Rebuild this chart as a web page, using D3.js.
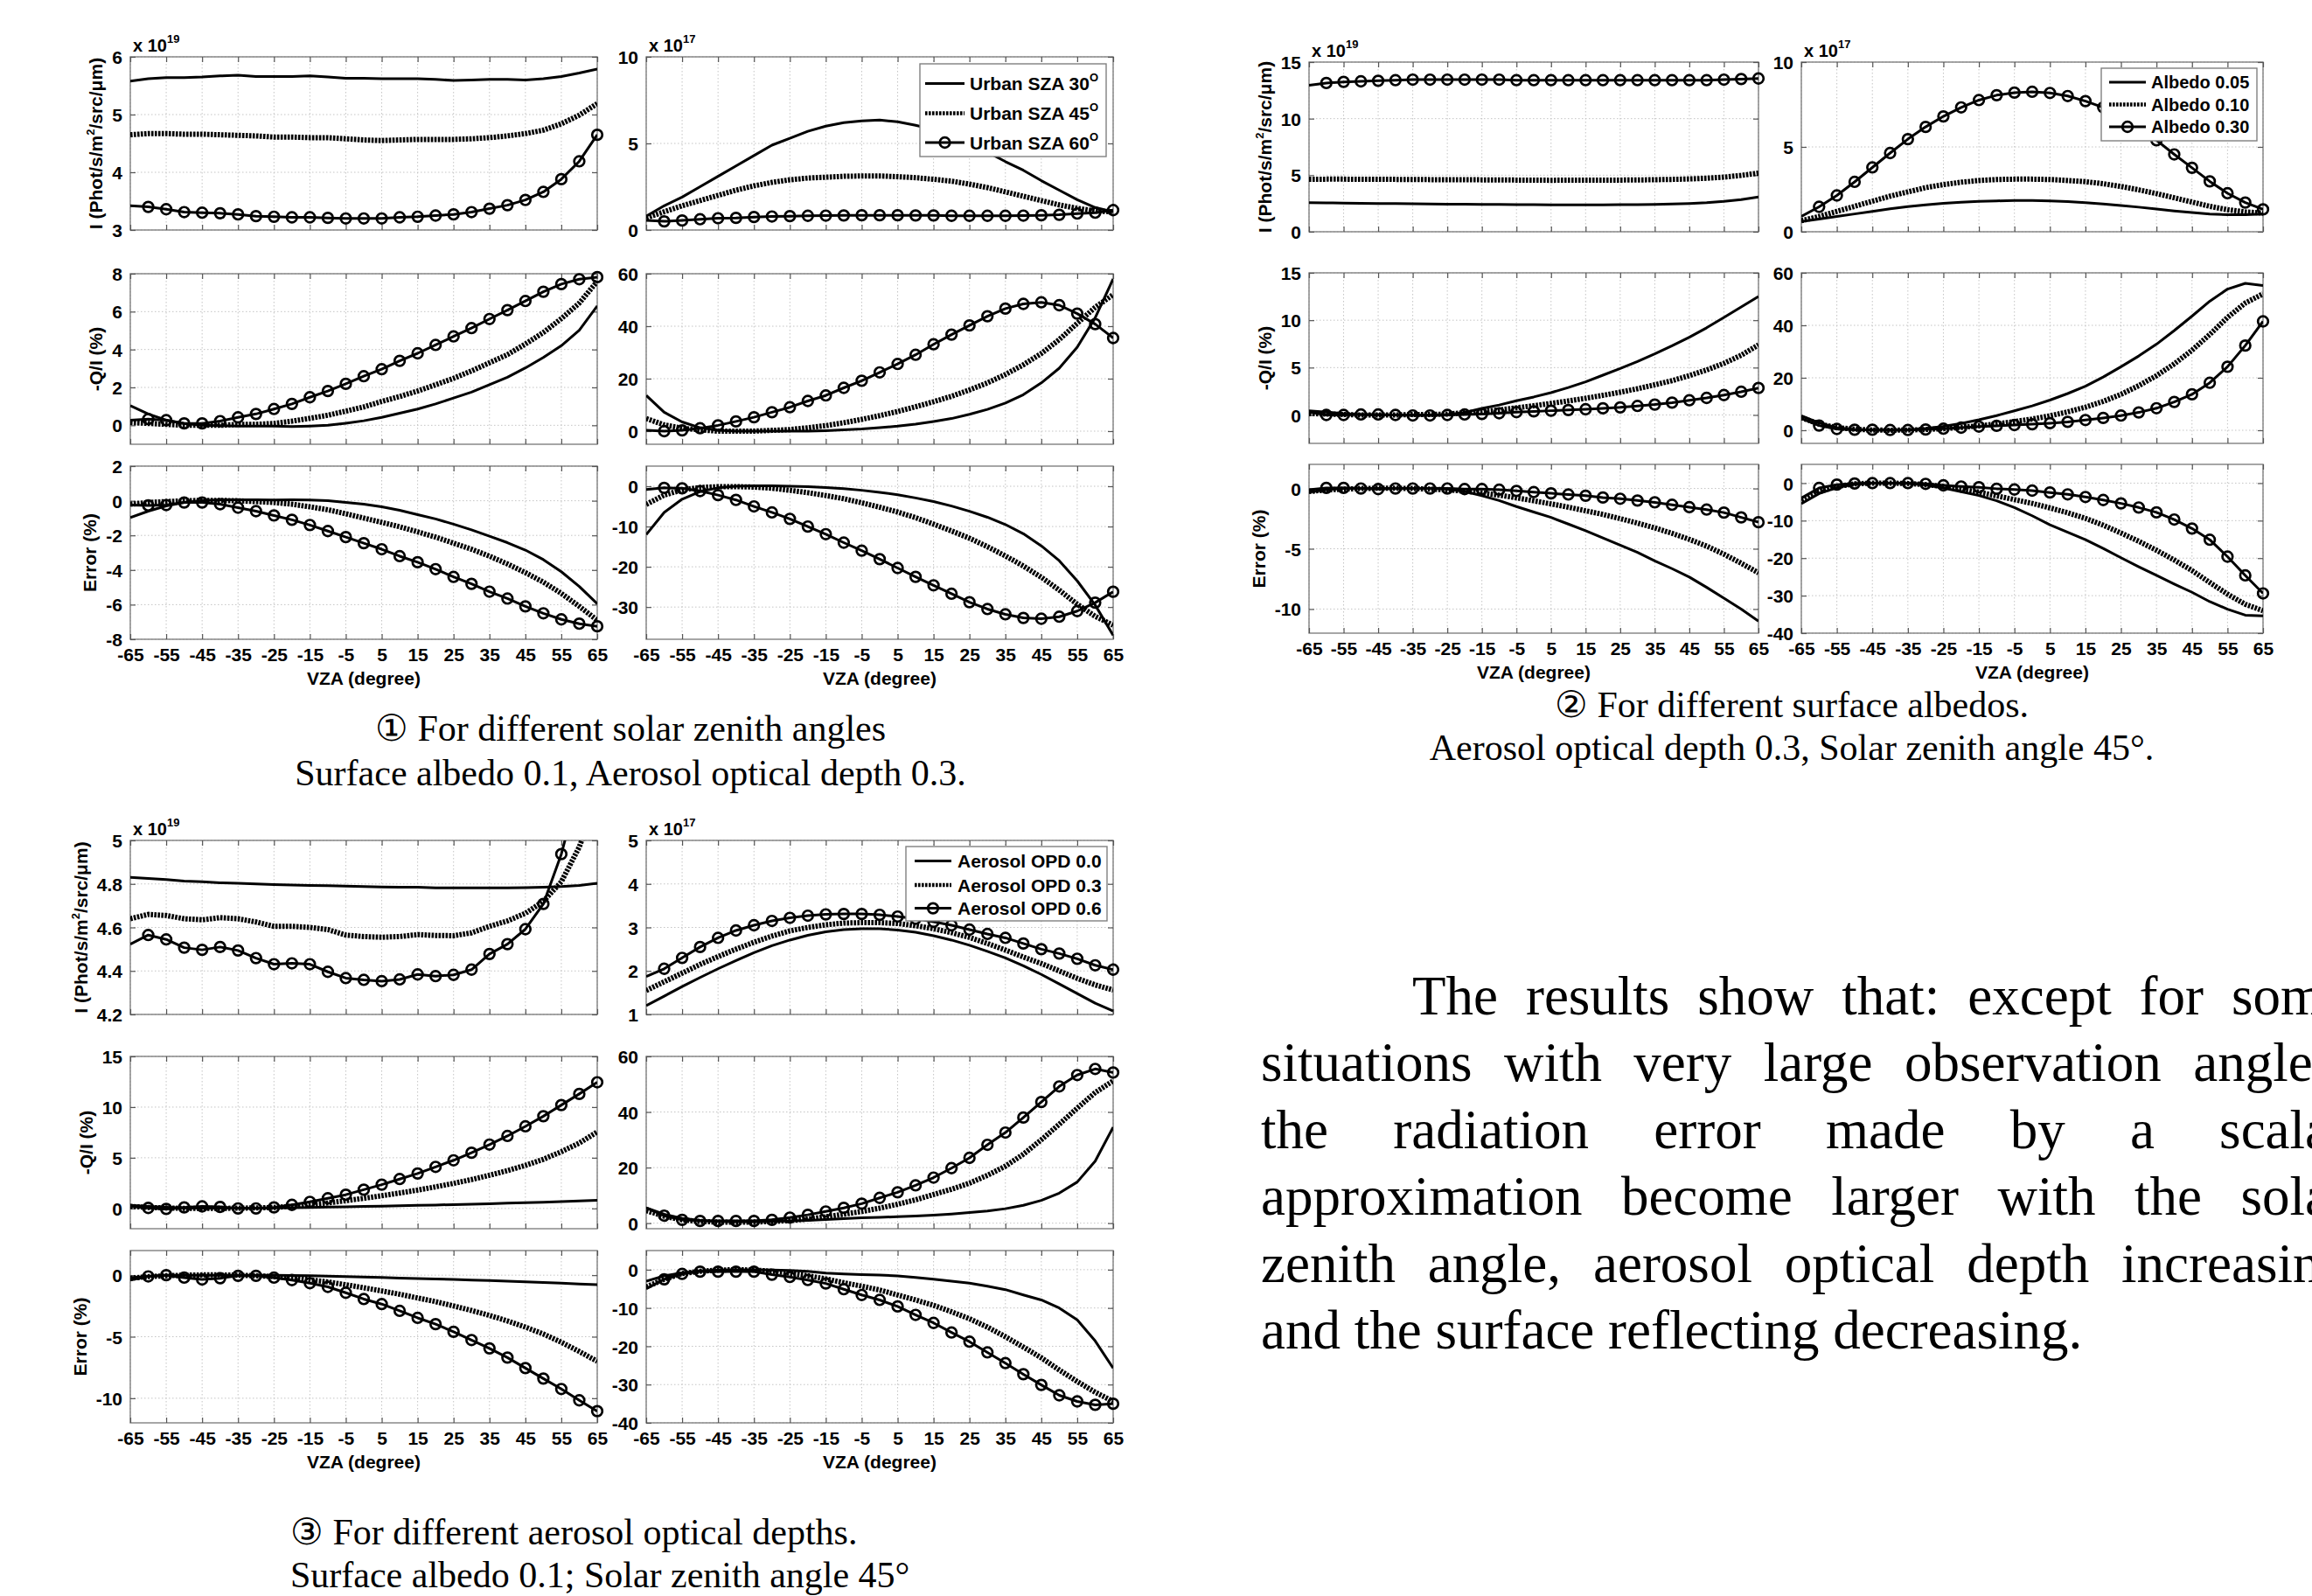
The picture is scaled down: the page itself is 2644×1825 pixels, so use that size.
<!DOCTYPE html>
<html>
<head>
<meta charset="utf-8">
<title>Scalar approximation error vs VZA</title>
<script src="https://cdn.jsdelivr.net/npm/d3@7"></script>
<style>
  body { margin: 0; background: #fff; }
  svg { display: block; }
</style>
</head>
<body>
<svg id="fig" width="2644" height="1825"></svg>
<script>
// view zenith angle, degrees
const vza = [-65, -60, -55, -50, -45, -40, -35, -30, -25, -20, -15, -10, -5, 0, 5, 10, 15, 20, 25, 30, 35, 40, 45, 50, 55, 60, 65];
const xTicks = [-65, -55, -45, -35, -25, -15, -5, 5, 15, 25, 35, 45, 55, 65];

const szaLabels = ["Urban SZA 30", "Urban SZA 45", "Urban SZA 60"];
const albedoLabels = ["Albedo 0.05", "Albedo 0.10", "Albedo 0.30"];
const aodLabels = ["Aerosol OPD 0.0", "Aerosol OPD 0.3", "Aerosol OPD 0.6"];

// ---- group 1: solar zenith angles ----
// I (x 1e19), left
const g1I30 = [5.58, 5.62, 5.64, 5.64, 5.65, 5.67, 5.68, 5.66, 5.66, 5.66, 5.67, 5.65, 5.63, 5.63, 5.62, 5.62, 5.62, 5.61, 5.59, 5.60, 5.61, 5.61, 5.60, 5.62, 5.66, 5.72, 5.79];
const g1I45 = [4.65, 4.67, 4.67, 4.66, 4.66, 4.65, 4.64, 4.63, 4.61, 4.61, 4.60, 4.60, 4.58, 4.56, 4.55, 4.56, 4.57, 4.57, 4.57, 4.58, 4.60, 4.63, 4.67, 4.73, 4.84, 4.99, 5.19];
const g1I60 = [3.42, 3.40, 3.36, 3.31, 3.30, 3.29, 3.27, 3.24, 3.23, 3.22, 3.22, 3.21, 3.20, 3.20, 3.20, 3.22, 3.23, 3.25, 3.27, 3.31, 3.37, 3.43, 3.52, 3.66, 3.88, 4.19, 4.65];
const g1Q30 = [1.04, 0.60, 0.27, 0.10, 0.00, -0.02, -0.04, -0.04, -0.04, -0.06, -0.04, 0.00, 0.11, 0.24, 0.42, 0.64, 0.86, 1.13, 1.44, 1.75, 2.14, 2.54, 3.03, 3.58, 4.20, 5.02, 6.30];
const g1Q45 = [0.15, 0.10, 0.05, 0.00, 0.00, 0.00, 0.05, 0.05, 0.10, 0.22, 0.37, 0.53, 0.75, 0.97, 1.26, 1.52, 1.81, 2.14, 2.48, 2.87, 3.30, 3.73, 4.29, 4.90, 5.63, 6.45, 7.60];
const g1Q60 = [0.27, 0.33, 0.27, 0.10, 0.10, 0.22, 0.42, 0.60, 0.86, 1.13, 1.48, 1.81, 2.19, 2.59, 2.96, 3.40, 3.80, 4.24, 4.69, 5.13, 5.61, 6.08, 6.56, 7.05, 7.45, 7.71, 7.82];
const g1E30 = [-0.97, -0.60, -0.30, -0.10, 0.00, 0.05, 0.05, 0.05, 0.04, 0.05, 0.04, 0.00, -0.10, -0.20, -0.35, -0.55, -0.80, -1.05, -1.35, -1.68, -2.05, -2.42, -2.85, -3.40, -4.10, -4.95, -5.95];
const g1E45 = [-0.20, -0.10, -0.05, 0.00, 0.02, 0.02, 0.00, -0.05, -0.10, -0.20, -0.35, -0.52, -0.75, -1.00, -1.25, -1.50, -1.80, -2.10, -2.45, -2.80, -3.20, -3.65, -4.15, -4.70, -5.35, -6.10, -6.90];
const g1E60 = [-0.25, -0.27, -0.25, -0.10, -0.10, -0.20, -0.40, -0.60, -0.85, -1.10, -1.40, -1.75, -2.10, -2.45, -2.80, -3.20, -3.55, -3.95, -4.40, -4.80, -5.25, -5.65, -6.10, -6.50, -6.85, -7.10, -7.25];
// polarized part, right (I x 1e17)
const g1R30 = [0.80, 1.40, 1.90, 2.50, 3.10, 3.70, 4.30, 4.90, 5.30, 5.70, 6.00, 6.20, 6.30, 6.35, 6.25, 6.05, 5.80, 5.40, 4.95, 4.50, 3.95, 3.45, 2.85, 2.30, 1.75, 1.30, 1.05];
const g1R45 = [0.70, 1.05, 1.40, 1.70, 2.00, 2.30, 2.55, 2.75, 2.90, 3.00, 3.05, 3.10, 3.12, 3.12, 3.08, 3.02, 2.93, 2.82, 2.65, 2.45, 2.20, 1.95, 1.70, 1.45, 1.25, 1.10, 1.05];
const g1R60 = [0.55, 0.50, 0.55, 0.62, 0.68, 0.70, 0.75, 0.78, 0.80, 0.82, 0.83, 0.84, 0.85, 0.85, 0.85, 0.84, 0.84, 0.82, 0.82, 0.82, 0.82, 0.83, 0.85, 0.88, 0.95, 1.00, 1.15];
const g1RQ30 = [13.6, 7.2, 3.5, 1.3, 0.3, 0.0, 0.0, 0.0, 0.0, 0.0, 0.2, 0.5, 0.8, 1.3, 1.9, 2.7, 3.7, 4.8, 6.4, 8.3, 10.7, 13.9, 18.4, 24.0, 32.0, 43.2, 58.0];
const g1RQ45 = [4.8, 2.4, 1.1, 0.5, 0.0, 0.0, 0.0, 0.3, 0.6, 1.3, 2.1, 3.2, 4.5, 5.9, 7.5, 9.3, 11.2, 13.3, 15.7, 18.4, 21.6, 25.3, 29.6, 34.9, 41.1, 47.2, 52.0];
const g1RQ60 = [0.3, 0.0, 0.3, 1.1, 2.2, 3.7, 5.3, 7.2, 9.1, 11.5, 13.6, 16.5, 19.2, 22.4, 25.6, 29.1, 33.1, 36.8, 40.3, 43.8, 46.7, 48.5, 49.1, 48.0, 44.8, 40.8, 35.5];
const g1RE30 = [-12.0, -6.5, -3.2, -1.3, -0.4, 0.0, 0.1, 0.1, 0.0, -0.1, -0.3, -0.6, -1.0, -1.5, -2.1, -2.9, -3.8, -4.9, -6.2, -7.7, -9.5, -11.8, -14.8, -18.5, -23.5, -29.5, -37.0];
const g1RE45 = [-4.5, -2.2, -0.9, -0.3, -0.1, -0.1, -0.2, -0.5, -1.0, -1.6, -2.3, -3.1, -4.1, -5.2, -6.4, -7.8, -9.4, -11.1, -12.9, -15.0, -17.3, -19.8, -22.6, -25.8, -29.3, -32.3, -34.5];
const g1RE60 = [-0.8, -0.4, -0.5, -1.2, -2.2, -3.4, -5.0, -6.5, -8.1, -10.0, -11.9, -14.0, -16.0, -18.1, -20.3, -22.5, -24.6, -26.7, -28.8, -30.5, -31.8, -32.7, -32.9, -32.4, -31.0, -28.9, -26.2];

// ---- group 2: surface albedos ----
const g2I05 = [2.58, 2.56, 2.54, 2.52, 2.50, 2.49, 2.47, 2.46, 2.44, 2.43, 2.42, 2.41, 2.40, 2.39, 2.38, 2.38, 2.38, 2.38, 2.39, 2.40, 2.42, 2.45, 2.50, 2.57, 2.68, 2.84, 3.08];
const g2I10 = [4.63, 4.65, 4.65, 4.64, 4.63, 4.63, 4.62, 4.61, 4.60, 4.60, 4.59, 4.59, 4.57, 4.56, 4.55, 4.56, 4.57, 4.57, 4.57, 4.58, 4.60, 4.63, 4.67, 4.73, 4.83, 4.98, 5.18];
const g2I30 = [12.95, 13.15, 13.25, 13.30, 13.35, 13.40, 13.45, 13.45, 13.45, 13.45, 13.45, 13.45, 13.40, 13.40, 13.40, 13.40, 13.40, 13.40, 13.40, 13.40, 13.40, 13.40, 13.40, 13.40, 13.45, 13.50, 13.55];
const g2Q05 = [0.45, 0.30, 0.15, 0.05, 0.00, 0.00, 0.00, 0.00, 0.05, 0.25, 0.70, 1.05, 1.50, 1.90, 2.35, 2.90, 3.50, 4.20, 4.90, 5.65, 6.45, 7.30, 8.20, 9.20, 10.30, 11.40, 12.50];
const g2Q10 = [0.15, 0.10, 0.05, 0.00, 0.00, 0.00, 0.05, 0.05, 0.10, 0.22, 0.37, 0.53, 0.75, 0.97, 1.22, 1.48, 1.76, 2.07, 2.40, 2.77, 3.18, 3.62, 4.15, 4.75, 5.45, 6.30, 7.40];
const g2Q30 = [0.30, 0.00, 0.00, 0.05, 0.05, 0.00, -0.05, -0.05, 0.00, 0.05, 0.10, 0.18, 0.30, 0.38, 0.45, 0.52, 0.60, 0.70, 0.80, 0.95, 1.10, 1.30, 1.55, 1.80, 2.10, 2.45, 2.85];
const g2E05 = [-0.30, -0.10, 0.00, 0.00, 0.00, 0.00, 0.00, 0.00, -0.05, -0.25, -0.60, -1.00, -1.50, -1.95, -2.40, -2.95, -3.50, -4.10, -4.70, -5.30, -6.00, -6.65, -7.35, -8.20, -9.10, -10.00, -11.00];
const g2E10 = [-0.25, -0.12, -0.05, 0.00, 0.02, 0.02, 0.00, -0.05, -0.12, -0.22, -0.37, -0.55, -0.78, -1.02, -1.28, -1.55, -1.85, -2.15, -2.50, -2.87, -3.27, -3.72, -4.22, -4.78, -5.45, -6.20, -7.00];
const g2E30 = [-0.10, 0.05, 0.05, 0.00, -0.05, 0.00, 0.00, 0.00, 0.00, -0.05, -0.05, -0.10, -0.20, -0.30, -0.40, -0.50, -0.60, -0.75, -0.85, -1.00, -1.15, -1.35, -1.55, -1.75, -2.00, -2.40, -2.80];
const g2R05 = [0.60, 0.75, 0.90, 1.05, 1.20, 1.35, 1.48, 1.58, 1.67, 1.74, 1.79, 1.82, 1.84, 1.84, 1.82, 1.78, 1.72, 1.64, 1.55, 1.45, 1.34, 1.23, 1.13, 1.05, 1.00, 1.00, 1.05];
const g2R10 = [0.65, 0.90, 1.20, 1.50, 1.80, 2.10, 2.35, 2.60, 2.78, 2.92, 3.02, 3.08, 3.10, 3.10, 3.08, 3.02, 2.95, 2.83, 2.67, 2.47, 2.25, 2.00, 1.75, 1.50, 1.30, 1.17, 1.10];
const g2R30 = [0.90, 1.47, 2.14, 2.94, 3.79, 4.64, 5.46, 6.18, 6.80, 7.33, 7.76, 8.05, 8.20, 8.25, 8.18, 8.00, 7.70, 7.33, 6.80, 6.13, 5.39, 4.56, 3.77, 2.97, 2.27, 1.72, 1.32];
const g2RQ05 = [5.5, 2.8, 1.0, 0.3, 0.1, 0.0, 0.2, 0.7, 1.5, 2.6, 4.0, 5.6, 7.4, 9.3, 11.5, 14.0, 16.8, 20.3, 24.2, 28.3, 32.8, 38.0, 43.5, 49.2, 53.8, 56.0, 55.2];
const g2RQ10 = [4.8, 2.4, 1.0, 0.4, 0.1, 0.0, 0.1, 0.3, 0.6, 1.1, 1.7, 2.4, 3.3, 4.3, 5.5, 7.0, 8.8, 11.0, 13.7, 17.0, 20.8, 25.3, 30.5, 36.5, 43.0, 48.5, 52.0];
const g2RQ30 = [4.5, 1.8, 0.5, 0.2, 0.2, 0.1, 0.1, 0.3, 0.6, 1.0, 1.4, 1.7, 2.0, 2.3, 2.7, 3.2, 3.9, 4.7, 5.6, 6.8, 8.4, 10.8, 13.7, 18.1, 24.2, 32.3, 41.5];
const g2RE05 = [-5.5, -2.8, -1.2, -0.3, 0.0, 0.0, -0.1, -0.5, -1.3, -2.3, -3.3, -4.7, -6.5, -8.7, -11.1, -13.1, -15.1, -17.4, -19.9, -22.3, -24.6, -26.9, -29.1, -31.6, -33.6, -35.2, -35.4];
const g2RE10 = [-4.5, -2.3, -0.9, -0.2, 0.0, 0.0, -0.1, -0.4, -0.9, -1.6, -2.4, -3.4, -4.4, -5.4, -6.6, -7.9, -9.4, -11.2, -13.3, -15.5, -17.9, -20.5, -23.3, -26.5, -29.6, -32.3, -34.0];
const g2RE30 = [-4.0, -1.3, -0.4, -0.1, 0.0, 0.0, 0.0, -0.2, -0.6, -0.9, -1.1, -1.5, -1.7, -2.0, -2.5, -3.0, -3.7, -4.5, -5.4, -6.5, -7.8, -9.7, -12.1, -15.1, -19.6, -24.6, -29.4];

// ---- group 3: aerosol optical depths ----
const g3I00 = [4.830, 4.825, 4.820, 4.813, 4.810, 4.805, 4.803, 4.800, 4.797, 4.795, 4.793, 4.792, 4.790, 4.788, 4.786, 4.785, 4.785, 4.782, 4.782, 4.782, 4.782, 4.782, 4.783, 4.785, 4.788, 4.793, 4.803];
const g3I03 = [4.640, 4.660, 4.655, 4.640, 4.635, 4.645, 4.640, 4.625, 4.605, 4.605, 4.600, 4.590, 4.565, 4.558, 4.555, 4.558, 4.567, 4.563, 4.562, 4.575, 4.605, 4.630, 4.665, 4.720, 4.810, 4.970, 5.190];
const g3I06 = [4.523, 4.565, 4.545, 4.507, 4.497, 4.510, 4.494, 4.459, 4.431, 4.435, 4.431, 4.396, 4.367, 4.359, 4.353, 4.361, 4.384, 4.376, 4.382, 4.406, 4.478, 4.523, 4.592, 4.708, 4.937, 5.250, 5.600];
const g3Q00 = [0.30, 0.20, 0.12, 0.06, 0.03, 0.02, 0.02, 0.03, 0.05, 0.07, 0.10, 0.13, 0.16, 0.20, 0.23, 0.27, 0.30, 0.34, 0.38, 0.42, 0.47, 0.52, 0.57, 0.62, 0.68, 0.74, 0.80];
const g3Q03 = [0.20, 0.10, 0.05, 0.00, 0.00, 0.00, 0.03, 0.05, 0.10, 0.22, 0.37, 0.55, 0.77, 1.00, 1.25, 1.52, 1.81, 2.13, 2.47, 2.85, 3.27, 3.73, 4.25, 4.85, 5.60, 6.45, 7.55];
const g3Q06 = [0.20, 0.05, -0.05, 0.10, 0.20, 0.15, 0.00, 0.00, 0.10, 0.35, 0.65, 1.00, 1.35, 1.85, 2.35, 2.90, 3.45, 4.10, 4.75, 5.50, 6.30, 7.15, 8.10, 9.10, 10.20, 11.30, 12.45];
const g3E00 = [-0.20, -0.10, 0.00, 0.00, 0.00, 0.00, 0.00, 0.00, 0.00, -0.02, -0.05, -0.08, -0.12, -0.15, -0.19, -0.23, -0.27, -0.31, -0.35, -0.39, -0.44, -0.49, -0.54, -0.59, -0.65, -0.72, -0.78];
const g3E03 = [-0.25, -0.12, -0.05, 0.00, 0.02, 0.02, 0.00, -0.05, -0.12, -0.22, -0.37, -0.55, -0.78, -1.02, -1.28, -1.55, -1.85, -2.15, -2.50, -2.87, -3.27, -3.72, -4.22, -4.78, -5.45, -6.20, -7.00];
const g3E06 = [-0.40, -0.10, 0.00, -0.20, -0.35, -0.25, -0.05, -0.05, -0.20, -0.40, -0.65, -0.95, -1.43, -1.94, -2.35, -2.90, -3.47, -3.98, -4.60, -5.27, -5.95, -6.70, -7.55, -8.40, -9.25, -10.17, -11.05];
const g3R00 = [1.20, 1.42, 1.64, 1.85, 2.05, 2.24, 2.42, 2.58, 2.71, 2.82, 2.90, 2.95, 2.97, 2.97, 2.94, 2.89, 2.81, 2.71, 2.59, 2.45, 2.30, 2.12, 1.92, 1.70, 1.48, 1.26, 1.08];
const g3R03 = [1.55, 1.75, 1.95, 2.15, 2.33, 2.50, 2.66, 2.80, 2.92, 3.00, 3.06, 3.10, 3.11, 3.11, 3.09, 3.04, 2.97, 2.88, 2.77, 2.63, 2.48, 2.32, 2.17, 2.00, 1.83, 1.68, 1.56];
const g3R06 = [1.87, 2.05, 2.30, 2.55, 2.76, 2.93, 3.05, 3.15, 3.22, 3.27, 3.30, 3.31, 3.31, 3.29, 3.25, 3.20, 3.13, 3.05, 2.95, 2.85, 2.76, 2.63, 2.50, 2.40, 2.28, 2.13, 2.03];
const g3RQ00 = [5.5, 3.2, 1.7, 1.0, 0.6, 0.5, 0.5, 0.6, 0.8, 1.0, 1.3, 1.6, 1.9, 2.1, 2.3, 2.6, 2.9, 3.3, 3.8, 4.4, 5.2, 6.4, 8.2, 10.8, 14.8, 22.3, 34.5];
const g3RQ03 = [4.5, 2.5, 1.2, 0.6, 0.4, 0.3, 0.4, 0.6, 0.9, 1.5, 2.3, 3.2, 4.2, 5.4, 6.8, 8.4, 10.3, 12.2, 14.4, 17.2, 20.5, 24.8, 30.0, 35.6, 41.4, 47.0, 51.2];
const g3RQ06 = [5.5, 2.7, 1.2, 0.8, 0.8, 0.8, 0.8, 1.2, 2.0, 3.0, 4.2, 5.5, 7.0, 9.1, 11.1, 13.6, 16.4, 19.8, 23.5, 28.2, 32.6, 38.0, 43.6, 49.2, 53.3, 55.5, 54.2];
const g3RE00 = [-3.0, -1.6, -0.8, -0.3, -0.1, 0.0, 0.0, -0.1, -0.2, -0.4, -0.9, -1.1, -1.3, -1.4, -1.6, -2.0, -2.5, -3.0, -3.5, -4.3, -5.2, -6.6, -7.9, -10.0, -13.1, -18.6, -25.7];
const g3RE03 = [-4.5, -2.5, -1.0, -0.4, -0.1, 0.0, -0.1, -0.4, -0.9, -1.6, -2.4, -3.4, -4.3, -5.3, -6.6, -7.9, -9.3, -11.0, -12.8, -15.0, -17.5, -20.2, -23.0, -26.2, -29.2, -32.0, -34.4];
const g3RE06 = [-5.0, -2.5, -1.1, -0.5, -0.5, -0.5, -0.5, -1.3, -1.9, -2.7, -3.6, -5.1, -6.6, -7.9, -9.6, -11.8, -13.9, -16.4, -18.8, -21.6, -24.4, -27.3, -30.1, -32.8, -34.4, -35.3, -35.0];

// y-axis tick labels of each panel
const g1Ticks = { I: [3, 4, 5, 6], Q: [0, 2, 4, 6, 8], E: [-8, -6, -4, -2, 0, 2], RI: [0, 5, 10], RQ: [0, 20, 40, 60], RE: [-30, -20, -10, 0] };
const g2Ticks = { I: [0, 5, 10, 15], Q: [0, 5, 10, 15], E: [-10, -5, 0], RI: [0, 5, 10], RQ: [0, 20, 40, 60], RE: [-40, -30, -20, -10, 0] };
const g3Ticks = { I: [4.2, 4.4, 4.6, 4.8, 5], Q: [0, 5, 10, 15], E: [-10, -5, 0], RI: [1, 2, 3, 4, 5], RQ: [0, 20, 40, 60], RE: [-40, -30, -20, -10, 0] };

// ---------------- layout ----------------
const layout = {
  g1: { cols: [[149, 683], [739, 1273]], rows: [[65, 263], [313, 508], [533, 731]] },
  g2: { cols: [[1497, 2011], [2060, 2588]], rows: [[71, 265], [312, 507], [531, 724]] },
  g3: { cols: [[149, 683], [739, 1273]], rows: [[961, 1160], [1208, 1405], [1430, 1627]] }
};

const panels = [
  { grp: "g1", col: 0, row: 0, dom: [3, 6], ticks: g1Ticks.I, exp: "19", yl: "I", s: [g1I30, g1I45, g1I60] },
  { grp: "g1", col: 0, row: 1, dom: [-1, 8], ticks: g1Ticks.Q, yl: "Q", s: [g1Q30, g1Q45, g1Q60] },
  { grp: "g1", col: 0, row: 2, dom: [-8, 2], ticks: g1Ticks.E, yl: "E", s: [g1E30, g1E45, g1E60] },
  { grp: "g1", col: 1, row: 0, dom: [0, 10], ticks: g1Ticks.RI, exp: "17", s: [g1R30, g1R45, g1R60] },
  { grp: "g1", col: 1, row: 1, dom: [-5, 60], ticks: g1Ticks.RQ, s: [g1RQ30, g1RQ45, g1RQ60] },
  { grp: "g1", col: 1, row: 2, dom: [-38, 5], ticks: g1Ticks.RE, s: [g1RE30, g1RE45, g1RE60] },
  { grp: "g2", col: 0, row: 0, dom: [0, 15], ticks: g2Ticks.I, exp: "19", yl: "I", s: [g2I05, g2I10, g2I30] },
  { grp: "g2", col: 0, row: 1, dom: [-3, 15], ticks: g2Ticks.Q, yl: "Q", s: [g2Q05, g2Q10, g2Q30] },
  { grp: "g2", col: 0, row: 2, dom: [-12, 2], ticks: g2Ticks.E, yl: "E", s: [g2E05, g2E10, g2E30] },
  { grp: "g2", col: 1, row: 0, dom: [0, 10], ticks: g2Ticks.RI, exp: "17", s: [g2R05, g2R10, g2R30] },
  { grp: "g2", col: 1, row: 1, dom: [-5, 60], ticks: g2Ticks.RQ, s: [g2RQ05, g2RQ10, g2RQ30] },
  { grp: "g2", col: 1, row: 2, dom: [-40, 5], ticks: g2Ticks.RE, s: [g2RE05, g2RE10, g2RE30] },
  { grp: "g3", col: 0, row: 0, dom: [4.2, 5], ticks: g3Ticks.I, exp: "19", yl: "I", s: [g3I00, g3I03, g3I06] },
  { grp: "g3", col: 0, row: 1, dom: [-2, 15], ticks: g3Ticks.Q, yl: "Q", s: [g3Q00, g3Q03, g3Q06] },
  { grp: "g3", col: 0, row: 2, dom: [-12, 2], ticks: g3Ticks.E, yl: "E", s: [g3E00, g3E03, g3E06] },
  { grp: "g3", col: 1, row: 0, dom: [1, 5], ticks: g3Ticks.RI, exp: "17", s: [g3R00, g3R03, g3R06] },
  { grp: "g3", col: 1, row: 1, dom: [-2, 60], ticks: g3Ticks.RQ, s: [g3RQ00, g3RQ03, g3RQ06] },
  { grp: "g3", col: 1, row: 2, dom: [-40, 5], ticks: g3Ticks.RE, s: [g3RE00, g3RE03, g3RE06] }
];

const sans = '"Liberation Sans", Arial, Helvetica, sans-serif';
const serif = '"Liberation Serif", "Times New Roman", Times, serif';

// solid, thick dotted, solid with circles
const styles = [
  { w: 3, dash: null, mark: false },
  { w: 6, dash: "2.6,1.4", mark: false },
  { w: 3, dash: null, mark: true }
];

const svg = d3.select("#fig");
svg.append("rect").attr("width", 2644).attr("height", 1825).attr("fill", "#fff");
const defs = svg.append("defs");
let clipN = 0;

function styleAxis(ax) {
  ax.attr("font-family", sans).attr("font-size", 21).attr("font-weight", "bold");
  ax.select(".domain").remove();
  ax.selectAll(".tick line").attr("stroke", "#555").attr("stroke-width", 1.2);
  ax.selectAll(".tick text").attr("fill", "#000");
}

function drawPanel(p) {
  const [x0, x1] = layout[p.grp].cols[p.col];
  const [y0, y1] = layout[p.grp].rows[p.row];
  const x = d3.scaleLinear().domain([-65, 65]).range([x0, x1]);
  const y = d3.scaleLinear().domain(p.dom).range([y1, y0]);
  const g = svg.append("g");

  const id = "clip" + clipN++;
  defs.append("clipPath").attr("id", id).append("rect")
    .attr("x", x0).attr("y", y0).attr("width", x1 - x0).attr("height", y1 - y0);

  // dotted grid
  const grid = g.append("g").attr("stroke", "#c4c4c4").attr("stroke-width", 1).attr("stroke-dasharray", "1.5,2.5");
  grid.selectAll(".gx").data(xTicks).join("line").attr("class", "gx")
    .attr("x1", d => x(d)).attr("x2", d => x(d)).attr("y1", y0).attr("y2", y1);
  grid.selectAll(".gy").data(p.ticks).join("line").attr("class", "gy")
    .attr("x1", x0).attr("x2", x1).attr("y1", d => y(d)).attr("y2", d => y(d));

  // box
  g.append("rect").attr("x", x0).attr("y", y0).attr("width", x1 - x0).attr("height", y1 - y0)
    .attr("fill", "none").attr("stroke", "#808080").attr("stroke-width", 1.4);

  // ticks on four sides, pointing inwards
  const bottom = g.append("g").attr("transform", `translate(0,${y1})`)
    .call(d3.axisBottom(x).tickValues(xTicks).tickSizeInner(-6).tickSizeOuter(0).tickPadding(10)
      .tickFormat(p.row === 2 ? d => String(d) : ""));
  styleAxis(bottom);
  const top = g.append("g").attr("transform", `translate(0,${y0})`)
    .call(d3.axisTop(x).tickValues(xTicks).tickSizeInner(-6).tickSizeOuter(0).tickFormat(""));
  styleAxis(top);
  const left = g.append("g").attr("transform", `translate(${x0},0)`)
    .call(d3.axisLeft(y).tickValues(p.ticks).tickSizeInner(-6).tickSizeOuter(0).tickPadding(9).tickFormat(d => String(d)));
  styleAxis(left);
  left.selectAll(".tick text").attr("dy", "0.36em");
  const right = g.append("g").attr("transform", `translate(${x1},0)`)
    .call(d3.axisRight(y).tickValues(p.ticks).tickSizeInner(-6).tickSizeOuter(0).tickFormat(""));
  styleAxis(right);

  // curves
  const line = d3.line().x((d, i) => x(vza[i])).y(d => y(d));
  p.s.forEach((vals, k) => {
    const st = styles[k];
    g.append("path").datum(vals)
      .attr("clip-path", `url(#${id})`)
      .attr("fill", "none").attr("stroke", "#000")
      .attr("stroke-width", st.w)
      .attr("stroke-dasharray", st.dash)
      .attr("stroke-linejoin", "round")
      .attr("d", line);
    if (st.mark) {
      const pts = vals.map((v, i) => [vza[i], v])
        .filter(d => d[0] > -65 && d[1] >= p.dom[0] && d[1] <= p.dom[1]);
      g.append("g").selectAll("circle").data(pts).join("circle")
        .attr("cx", d => x(d[0])).attr("cy", d => y(d[1])).attr("r", 5.8)
        .attr("fill", "none").attr("stroke", "#000").attr("stroke-width", 2.7);
    }
  });

  // exponent
  if (p.exp) {
    const t = g.append("text").attr("x", x0 + 3).attr("y", y0 - 6)
      .attr("font-family", sans).attr("font-size", 20).attr("font-weight", "bold").text("x 10");
    t.append("tspan").attr("dy", -10).attr("font-size", 13).text(p.exp);
  }

  // y label, placed just left of the tick labels
  if (p.yl) {
    const bb = left.node().getBBox();
    const lx = x0 + bb.x - 11;
    const t = g.append("text")
      .attr("transform", `translate(${lx},${(y0 + y1) / 2}) rotate(-90)`)
      .attr("text-anchor", "middle")
      .attr("font-family", sans).attr("font-size", 21).attr("font-weight", "bold");
    if (p.yl === "I") {
      t.append("tspan").text("I (Phot/s/m");
      t.append("tspan").attr("dy", -9).attr("font-size", 13).text("2");
      t.append("tspan").attr("dy", 9).text("/src/\u03bcm)");
    } else if (p.yl === "Q") {
      t.text("-Q/I (%)");
    } else {
      t.text("Error (%)");
    }
  }

  // x label
  if (p.row === 2) {
    g.append("text").attr("x", (x0 + x1) / 2).attr("y", y1 + 52)
      .attr("text-anchor", "middle").attr("font-family", sans)
      .attr("font-size", 21).attr("font-weight", "bold").text("VZA (degree)");
  }
}

panels.forEach(drawPanel);

// ---------------- legends ----------------
const legends = [
  { labels: szaLabels, sup: true, x: 1052, y: 73, w: 213, h: 106, rows: [95.5, 129.5, 163], l0: 6, l1: 51, tx: 57, fs: 21 },
  { labels: albedoLabels, sup: false, x: 2403, y: 78, w: 178, h: 83, rows: [94, 119.6, 145], l0: 9, l1: 51, tx: 57, fs: 20 },
  { labels: aodLabels, sup: false, x: 1036, y: 968, w: 230, h: 85, rows: [984.5, 1012, 1038.6], l0: 10, l1: 52, tx: 59, fs: 21 }
];

legends.forEach(L => {
  const g = svg.append("g");
  g.append("rect").attr("x", L.x).attr("y", L.y).attr("width", L.w).attr("height", L.h)
    .attr("fill", "#fff").attr("stroke", "#808080").attr("stroke-width", 1.4);
  L.labels.forEach((lab, k) => {
    const st = styles[k];
    const yy = L.rows[k];
    g.append("line").attr("x1", L.x + L.l0).attr("x2", L.x + L.l1).attr("y1", yy).attr("y2", yy)
      .attr("stroke", "#000").attr("stroke-width", st.w === 3 ? 3 : 4.5).attr("stroke-dasharray", st.dash);
    if (st.mark) {
      g.append("circle").attr("cx", L.x + (L.l0 + L.l1) / 2).attr("cy", yy).attr("r", 5.8)
        .attr("fill", "none").attr("stroke", "#000").attr("stroke-width", 2.7);
    }
    const t = g.append("text").attr("x", L.x + L.tx).attr("y", yy + L.fs * 0.36)
      .attr("font-family", sans).attr("font-size", L.fs).attr("font-weight", "bold").text(lab);
    if (L.sup) t.append("tspan").attr("dy", -10).attr("font-size", 13).text("O");
  });
});

// ---------------- captions ----------------
const captions = [
  { x: 721, y: 847, anchor: "middle", text: "\u2460 For different solar zenith angles" },
  { x: 721, y: 898, anchor: "middle", text: "Surface albedo 0.1, Aerosol optical depth 0.3." },
  { x: 2049, y: 820, anchor: "middle", text: "\u2461 For different surface albedos." },
  { x: 2049, y: 869, anchor: "middle", text: "Aerosol optical depth 0.3, Solar zenith angle 45\u00b0." },
  { x: 332, y: 1766, anchor: "start", text: "\u2462 For different aerosol optical depths." },
  { x: 332, y: 1815, anchor: "start", text: "Surface albedo 0.1; Solar zenith angle 45\u00b0" }
];
svg.append("g").selectAll("text").data(captions).join("text")
  .attr("x", d => d.x).attr("y", d => d.y).attr("text-anchor", d => d.anchor)
  .attr("font-family", serif).attr("font-size", 42).text(d => d.text);

// ---------------- justified paragraph (runs past the right edge, as in the source page) ----------------
const paraLines = [
  "The results show that: except for some",
  "situations with very large observation angles,",
  "the radiation error made by a scalar",
  "approximation become larger with the solar",
  "zenith angle, aerosol optical depth increasing",
  "and the surface reflecting decreasing."
];
const paraLeft = 1442, paraIndent = 1615, paraRight = 2685, paraTop = 1160, paraStep = 76.4;
const para = svg.append("g").attr("font-family", serif).attr("font-size", 63);
paraLines.forEach((ln, i) => {
  const words = ln.split(" ");
  const yy = paraTop + i * paraStep;
  const start = i === 0 ? paraIndent : paraLeft;
  const nodes = words.map(w => para.append("text").attr("y", yy).text(w));
  const widths = nodes.map(n => n.node().getComputedTextLength());
  const total = d3.sum(widths);
  const last = i === paraLines.length - 1;
  const gap = last ? 63 * 0.25 : (paraRight - start - total) / (words.length - 1);
  let cx = start;
  nodes.forEach((n, k) => { n.attr("x", cx); cx += widths[k] + gap; });
});
</script>
</body>
</html>
